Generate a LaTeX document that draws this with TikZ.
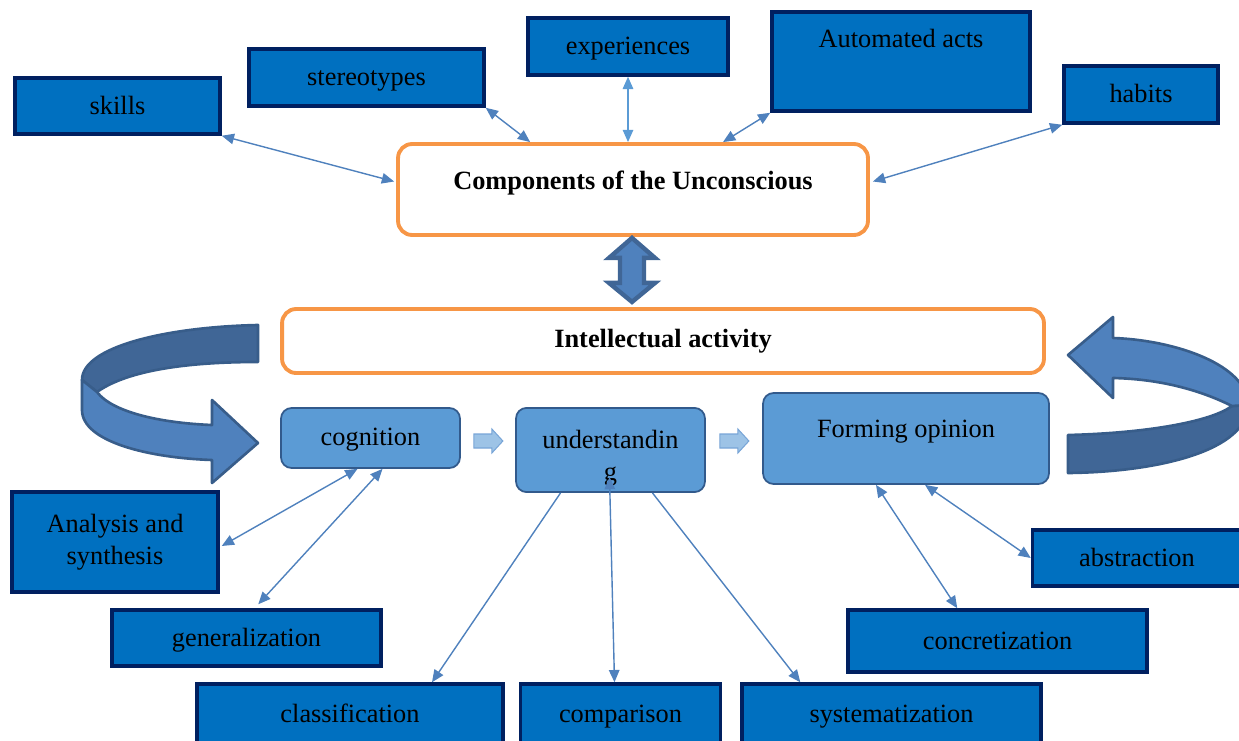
\documentclass[tikz,border=0pt]{standalone}
\usepackage{fontspec}
\setmainfont{Liberation Serif}
\usetikzlibrary{positioning,calc,arrows.meta}
\definecolor{boxblue}{RGB}{0,112,192}
\definecolor{boxline}{RGB}{0,32,96}
\definecolor{stepblue}{RGB}{91,155,213}
\definecolor{stepline}{RGB}{50,90,140}
\definecolor{ringorange}{RGB}{247,150,70}
\definecolor{linkblue}{RGB}{79,129,189}
\definecolor{lightlink}{RGB}{91,155,213}
\definecolor{bandfront}{RGB}{79,129,189}
\definecolor{bandback}{RGB}{64,102,150}
\definecolor{bandline}{RGB}{56,93,138}
\definecolor{flowfill}{RGB}{157,195,230}
\definecolor{flowline}{RGB}{120,165,215}

\begin{document}
\begin{tikzpicture}[x=0.02cm,y=-0.02cm,
	comp/.style={rectangle,draw=boxline,fill=boxblue,line width=2pt,font=\fontsize{15}{18}\selectfont,align=center,inner sep=2pt,text height=13pt,text depth=3.5pt},
	head/.style={rectangle,rounded corners=8pt,draw=ringorange,fill=white,line width=2.2pt,font=\fontsize{15}{18}\selectfont\bfseries},
	stepbox/.style={rectangle,rounded corners=6pt,draw=stepline,fill=stepblue,line width=1pt,font=\fontsize{15}{18}\selectfont,align=center,text height=12pt,text depth=3.5pt},
	link/.style={draw=linkblue,line width=0.8pt,{Triangle[length=7pt,width=6pt]}-{Triangle[length=7pt,width=6pt]}},
	oneway/.style={draw=linkblue,line width=0.8pt,-{Triangle[length=7pt,width=6pt]}},
	band/.style={draw=bandline,line width=1.5pt,line join=round},
	flow/.style={draw=flowline,fill=flowfill,line width=0.6pt}]
			
			\useasboundingbox (0,0) rectangle (1239,740);
			\clip (0,0) rectangle (1239,740);
			
			% components of the unconscious
			\node[comp,minimum width=4.1cm,minimum height=1.12cm] (skills) at (117.5,106) {skills};
			\node[comp,minimum width=4.7cm,minimum height=1.14cm] (stereotypes) at (366.5,77.5) {stereotypes};
			\node[comp,minimum width=4.0cm,minimum height=1.14cm] (experiences) at (628,46.5) {experiences};
			\node[comp,minimum width=5.16cm,minimum height=1.98cm,text height=10.5pt,text depth=26pt] (automated) at (901,61.5) {Automated acts};
			\node[comp,minimum width=3.08cm,minimum height=1.14cm] (habits) at (1141,94.5) {habits};
			\node[head,minimum width=9.4cm,minimum height=1.82cm,text depth=10pt] (unconscious) at (633,189.5) {Components of the Unconscious};
			\node[head,minimum width=15.24cm,minimum height=1.28cm] (intellect) at (663,341) {Intellectual activity};
			
			% stages
			\node[stepbox,minimum width=3.58cm,minimum height=1.2cm] (cognition) at (370.5,438) {cognition};
			\node[stepbox,minimum width=3.78cm,minimum height=1.6cm,text height=,text depth=] (understanding) at (610.5,450) {\rule{0pt}{20pt}understandin\\g};
			\node[stepbox,minimum width=5.72cm,minimum height=1.82cm,text height=10.5pt,text depth=12pt] (opinion) at (906,438.5) {Forming opinion};
			
			% operations
			\node[comp,minimum width=4.12cm,minimum height=2.0cm,text height=,text depth=] (analysis) at (115,542) {Analysis and\\synthesis};
			\node[comp,minimum width=5.38cm,minimum height=1.12cm] (generalization) at (246.5,638) {generalization};
			\node[comp,minimum width=6.12cm,minimum height=1.2cm] (classification) at (350,714) {classification};
			\node[comp,minimum width=4.0cm,minimum height=1.2cm] (comparison) at (620.5,714) {comparison};
			\node[comp,minimum width=5.98cm,minimum height=1.2cm] (systematization) at (891.5,714) {systematization};
			\node[comp,minimum width=5.98cm,minimum height=1.24cm] (concretization) at (997.5,641) {concretization};
			\node[comp,minimum width=4.18cm,minimum height=1.12cm] (abstraction) at (1137,558) {abstraction};
			
			\draw[link] (skills.south east) -- ($(unconscious.west)+(-2,-8)$);
			\draw[link] (stereotypes.south east) -- ($(unconscious.north west)+(134,0)$);
			\draw[link,draw=lightlink] (experiences.south) -- (experiences.south |- unconscious.north);
			\draw[link] (automated.south west) -- ($(unconscious.north)+(90,0)$);
			\draw[link] (habits.south west) -- ($(unconscious.east)+(3,-8)$);
			
			% big double arrow
			\coordinate (mid) at ($(unconscious.south)+(-1,33)$);
			\draw[fill=bandfront,draw=bandback,line width=2.5pt] (mid) ++(0,-32) -- ++(23,20) -- ++(-11,0) -- ++(0,25) -- ++(11,0) -- ++(-23,19) -- ++(-23,-19) -- ++(11,0) -- ++(0,-25) -- ++(-11,0) -- cycle;
			
			% small arrows between stages
			\draw[flow] ($(cognition.east)+(13,-4)$) -- ++(18,0) -- ++(0,-5) -- ++(11,12) -- ++(-11,12) -- ++(0,-5) -- ++(-18,0) -- cycle;
			\draw[flow] ($(understanding.east)+(14,-16)$) -- ++(18,0) -- ++(0,-5) -- ++(11,12) -- ++(-11,12) -- ++(0,-5) -- ++(-18,0) -- cycle;
			
			\draw[link] ($(cognition.south)+(-13,0)$) -- ($(analysis.east)+(2,4)$);
			\draw[link] ($(cognition.south)+(12,0)$) -- ($(generalization.north west)+(148,-4)$);
			\draw[oneway] ($(understanding.south)+(-50,0)$) -- ($(classification.north)+(82,0)$);
			\draw[link] ($(comparison.north)+(-6,0)$) -- ($(understanding.south)+(-1,-16)$);
			\draw[oneway] ($(understanding.south)+(42,0)$) -- ($(systematization.north west)+(60,0)$);
			\draw[link] ($(opinion.south)+(-30,0)$) -- ($(concretization.north west)+(111,0)$);
			\draw[link] ($(opinion.south)+(19,0)$) -- (abstraction.west);
			
			% curved arrows
			\draw[band,fill=bandback] (258,325) .. controls (165,327) and (82,347) .. (82,380) -- (97,392) .. controls (125,372) and (180,362) .. (258,362) -- cycle;
			\draw[band,fill=bandfront] (82,380) -- (82,410) .. controls (82,442) and (150,458) .. (212,460) -- (212,483) -- (258,443) -- (212,400) -- (212,425) .. controls (160,423) and (112,412) .. (97,392) -- cycle;
			\draw[band,fill=bandback] (1068,435) .. controls (1150,433) and (1212,421) .. (1232,406) -- (1248,405) .. controls (1248,450) and (1160,472) .. (1068,473) -- cycle;
			\draw[band,fill=bandfront] (1232,406) .. controls (1200,390) and (1160,379) .. (1113,378) -- (1113,398) -- (1068,355) -- (1113,317) -- (1113,338) .. controls (1175,340) and (1248,365) .. (1248,405) -- cycle;
			
		\end{tikzpicture}
\end{document}
